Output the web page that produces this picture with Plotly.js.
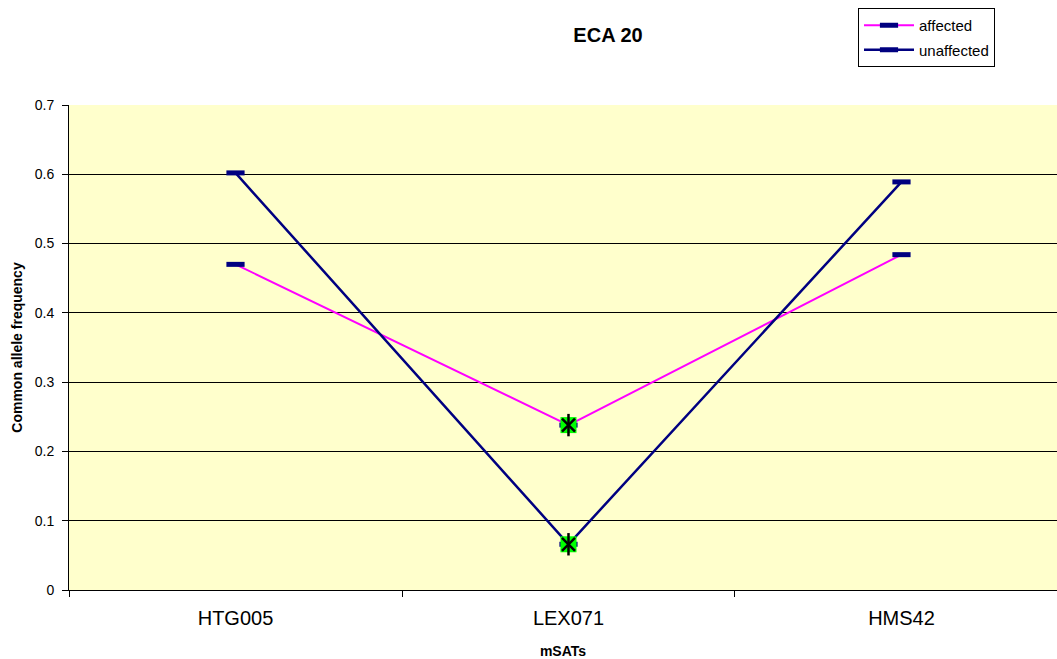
<!DOCTYPE html>
<html><head><meta charset="utf-8">
<script src="https://cdn.plot.ly/plotly-3.0.1.min.js"></script>
<style>html,body{margin:0;padding:0;background:#fff}#chart{width:1057px;height:659px}</style>
</head><body><div id="chart"></div>
<script>
const categories = ["HTG005", "LEX071", "HMS42"];
const affected = [0.47, 0.238, 0.484];
const unaffected = [0.602, 0.066, 0.589];
const sigCategories = ["LEX071", "LEX071"];
const sigValues = [0.238, 0.066];
const yTicks = [0, 0.1, 0.2, 0.3, 0.4, 0.5, 0.6, 0.7];

const FONT = "Liberation Sans, Arial, sans-serif";
const dashMarker = {symbol: "line-ew", size: 13, line: {width: 5, color: "#000080"}, color: "#000080"};

const traces = [
  {x: categories, y: affected, name: "affected", type: "scatter", mode: "lines+markers",
   line: {color: "#FF00FF", width: 2}, marker: dashMarker, legendgroup: "a"},
  {x: categories, y: unaffected, name: "unaffected", type: "scatter", mode: "lines+markers",
   line: {color: "#000080", width: 2.5}, marker: dashMarker, legendgroup: "b"},
  {x: sigCategories, y: sigValues, type: "scatter", mode: "markers", showlegend: false, hoverinfo: "skip",
   marker: {symbol: "square", size: 16, color: "#00FF00", line: {width: 0}}},
  {x: sigCategories, y: sigValues, type: "scatter", mode: "markers", showlegend: false, hoverinfo: "skip",
   marker: {symbol: "x-thin-open", size: 13, color: "#000000", line: {width: 2.5, color: "#000000"}}},
  {x: sigCategories, y: sigValues, type: "scatter", mode: "markers", showlegend: false, hoverinfo: "skip",
   marker: {symbol: "line-ns-open", size: 16, color: "#000000", line: {width: 2.5, color: "#000000"}}}
];

const layout = {
  width: 1057, height: 659,
  margin: {l: 69, r: 0, t: 105, b: 69, pad: 0, autoexpand: false},
  paper_bgcolor: "#FFFFFF",
  plot_bgcolor: "#FFFFCC",
  font: {family: FONT, color: "#000000"},
  title: {text: "<b>ECA 20</b>", font: {size: 20, family: FONT, color: "#000"},
          x: 608/1057, xref: "container", xanchor: "center", y: 1 - 35/659, yref: "container", yanchor: "middle"},
  xaxis: {
    type: "category", range: [-0.5, 2.467], automargin: false,
    showline: true, linecolor: "#000", linewidth: 1,
    ticks: "outside", tickson: "boundaries", ticklen: 6, tickcolor: "#000", tickwidth: 1,
    tickfont: {size: 20, family: FONT}, ticklabelstandoff: 10,
    showgrid: false, zeroline: false,
    title: {text: "<b>mSATs</b>", font: {size: 14, family: FONT}, standoff: 18}
  },
  yaxis: {
    range: [0, 0.7], tickvals: yTicks, ticktext: yTicks.map(v => String(v)), automargin: false,
    showline: true, linecolor: "#000", linewidth: 1,
    ticks: "outside", ticklen: 6, tickcolor: "#000", tickwidth: 1,
    tickfont: {size: 14, family: FONT}, ticklabelstandoff: 5,
    showgrid: true, gridcolor: "#000", gridwidth: 1, zeroline: false,
    title: {text: "<b>Common allele frequency</b>", font: {size: 14, family: FONT}, standoff: 8}
  },
  legend: {
    xref: "container", yref: "container", x: 858/1057, y: 1 - 8/659, xanchor: "left", yanchor: "top",
    bgcolor: "#FFFFFF", bordercolor: "#000", borderwidth: 1,
    font: {size: 15, family: FONT}, traceorder: "grouped", tracegroupgap: 2,
    itemwidth: 50
  },
  showlegend: true
};

Plotly.newPlot("chart", traces, layout, {staticPlot: true, displayModeBar: false});
</script></body></html>
